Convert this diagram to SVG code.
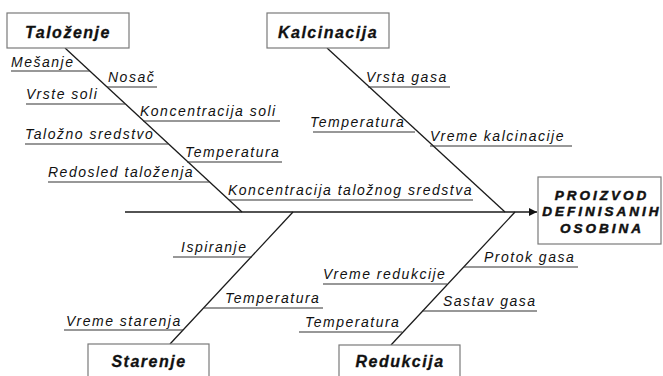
<svg xmlns="http://www.w3.org/2000/svg" width="663" height="376" viewBox="0 0 663 376">
<defs>
<style>
.box{fill:#fff;stroke:#7a7a7a;stroke-width:1.2}
.bone{stroke:#1a1a1a;stroke-width:1.3;fill:none}
.sub{stroke:#333;stroke-width:1.2;fill:none}
.lbl{font-family:"Liberation Sans",Arial,sans-serif;font-style:italic;font-size:14px;letter-spacing:1.5px;fill:#111}
.ttl{font-family:"Liberation Sans",Arial,sans-serif;font-style:italic;font-weight:bold;font-size:16px;letter-spacing:1.5px;fill:#111;stroke:#111;stroke-width:0.3;text-anchor:middle}
.prd{font-family:"Liberation Sans",Arial,sans-serif;font-style:italic;font-weight:bold;font-size:13.5px;letter-spacing:3px;fill:#111;stroke:#111;stroke-width:0.5;text-anchor:middle}
</style>
<marker id="arr" viewBox="0 0 10 10" refX="10" refY="5" markerWidth="12" markerHeight="8" markerUnits="userSpaceOnUse" orient="auto">
<path d="M0,0 L10,5 L0,10 Z" fill="#111"/>
</marker>
</defs>
<rect width="663" height="376" fill="#fff"/>
<g id="connectors">
<line class="bone" x1="125" y1="212" x2="537" y2="212" marker-end="url(#arr)"/>
<line class="bone" x1="65" y1="48" x2="242" y2="212"/>
<line class="bone" x1="327" y1="48" x2="505" y2="212"/>
<line class="bone" x1="293" y1="212" x2="170" y2="344"/>
<line class="bone" x1="515" y1="212" x2="391" y2="345"/>
<g class="sub">
<line x1="11" y1="71" x2="90" y2="71"/>
<line x1="107" y1="87" x2="157" y2="87"/>
<line x1="26" y1="104" x2="125" y2="104"/>
<line x1="143" y1="121" x2="280" y2="121"/>
<line x1="25" y1="144" x2="168" y2="144"/>
<line x1="187" y1="162" x2="282" y2="162"/>
<line x1="48" y1="182" x2="209" y2="182"/>
<line x1="229" y1="200" x2="473" y2="200"/>
<line x1="368" y1="87" x2="450" y2="87"/>
<line x1="313" y1="132" x2="415" y2="132"/>
<line x1="430" y1="146" x2="572" y2="146"/>
<line x1="173" y1="257" x2="252" y2="257"/>
<line x1="204" y1="308" x2="323" y2="308"/>
<line x1="64" y1="330" x2="183" y2="330"/>
<line x1="464" y1="267" x2="578" y2="267"/>
<line x1="323" y1="284" x2="447" y2="284"/>
<line x1="422" y1="311" x2="537" y2="311"/>
<line x1="299" y1="332" x2="402" y2="332"/>
</g>
</g>
<g id="talozenje">
<rect class="box" x="7" y="13" width="122" height="35"/>
<text class="ttl" x="68" y="38">Taloženje</text>
<text class="lbl" x="11" y="67">Mešanje</text>
<text class="lbl" x="108" y="82">Nosač</text>
<text class="lbl" x="26" y="99">Vrste soli</text>
<text class="lbl" x="140" y="116">Koncentracija soli</text>
<text class="lbl" x="25" y="139">Taložno sredstvo</text>
<text class="lbl" x="185" y="157">Temperatura</text>
<text class="lbl" x="48" y="177">Redosled taloženja</text>
<text class="lbl" x="228" y="195">Koncentracija taložnog sredstva</text>
</g>
<g id="kalcinacija">
<rect class="box" x="267" y="13" width="122" height="35"/>
<text class="ttl" x="328" y="38">Kalcinacija</text>
<text class="lbl" x="366" y="82">Vrsta gasa</text>
<text class="lbl" x="310" y="127">Temperatura</text>
<text class="lbl" x="430" y="141">Vreme kalcinacije</text>
</g>
<g id="proizvod">
<rect class="box" x="538" y="177" width="123" height="67"/>
<text class="prd" x="602" y="200">PROIZVOD</text>
<text class="prd" x="602" y="216">DEFINISANIH</text>
<text class="prd" x="602" y="233">OSOBINA</text>
</g>
<g id="starenje">
<rect class="box" x="88" y="344" width="121" height="40"/>
<text class="ttl" x="149" y="367">Starenje</text>
<text class="lbl" x="181" y="252">Ispiranje</text>
<text class="lbl" x="225" y="303">Temperatura</text>
<text class="lbl" x="66" y="326">Vreme starenja</text>
</g>
<g id="redukcija">
<rect class="box" x="339" y="345" width="121" height="40"/>
<text class="ttl" x="400" y="367">Redukcija</text>
<text class="lbl" x="484" y="262">Protok gasa</text>
<text class="lbl" x="323" y="279">Vreme redukcije</text>
<text class="lbl" x="443" y="306">Sastav gasa</text>
<text class="lbl" x="305" y="327">Temperatura</text>
</g>
</svg>
